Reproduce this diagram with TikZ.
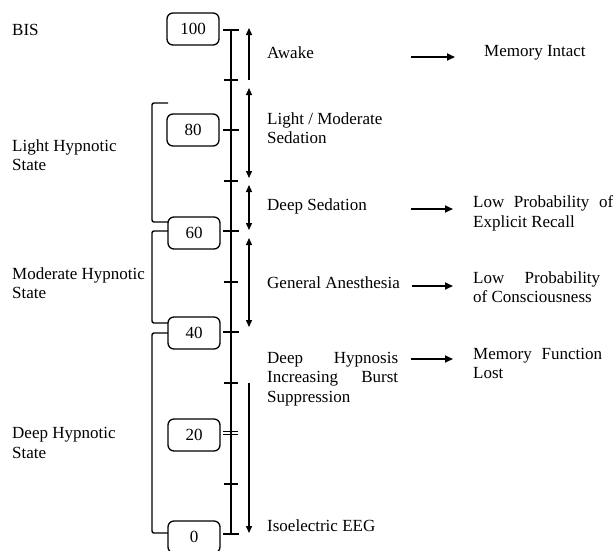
\documentclass[tikz,border=0pt]{standalone}
\usepackage{fontspec}
\setmainfont{Liberation Serif}
\usetikzlibrary{arrows.meta}

\begin{document}
\begin{tikzpicture}[
    x=1pt, y=-1pt,
    txt/.style={anchor=west, inner sep=0pt, align=left,
      font=\fontsize{17}{19.5}\selectfont},
    jtxt/.style={txt, align=justify},
    valbox/.style={draw, line width=1.3pt, rounded corners=6pt,
      minimum width=52pt, minimum height=32pt, inner sep=0pt,
      font=\fontsize{17}{19.5}\selectfont},
    axis/.style={line width=2.4pt},
    major/.style={line width=2.2pt},
    minor/.style={line width=1.4pt},
    bracket/.style={line width=1.4pt, rounded corners=2pt},
    arrow/.style={-{Triangle[length=8pt,width=7pt]}, line width=1.8pt,
      shorten >=20pt},
    varrow/.style={-{Triangle[length=7pt,width=6pt]}, line width=1.3pt},
    dblarrow/.style={{Triangle[length=7pt,width=6pt]}-{Triangle[length=7pt,width=6pt]},
      line width=1.3pt},
  ]
    \useasboundingbox (0,0) rectangle (613,550);

    % scale
    \coordinate (t100) at (231,30);
    \coordinate (t90) at (231,80);
    \coordinate (t80) at (231,130);
    \coordinate (t70) at (231,181);
    \coordinate (t60) at (231,231);
    \coordinate (t50) at (231,282);
    \coordinate (t40) at (231,332);
    \coordinate (t30) at (231,383);
    \coordinate (t20) at (231,433);
    \coordinate (t10) at (231,484);
    \coordinate (t0) at (231,534);

    \draw[axis] (t100) -- (t0);
    \draw[major] ([xshift=-8pt]t100) -- ([xshift=8pt]t100);
    \draw[minor] ([xshift=-7pt]t90) -- ([xshift=7pt]t90);
    \draw[major] ([xshift=-8pt]t80) -- ([xshift=8pt]t80);
    \draw[minor] ([xshift=-7pt]t70) -- ([xshift=7pt]t70);
    \draw[major] ([xshift=-8pt]t60) -- ([xshift=8pt]t60);
    \draw[minor] ([xshift=-7pt]t50) -- ([xshift=7pt]t50);
    \draw[major] ([xshift=-8pt]t40) -- ([xshift=8pt]t40);
    \draw[minor] ([xshift=-7pt]t30) -- ([xshift=7pt]t30);
    \draw[minor] ([xshift=-8pt,yshift=1.6pt]t20) -- ([xshift=7pt,yshift=1.6pt]t20);
    \draw[minor] ([xshift=-8pt,yshift=-1.6pt]t20) -- ([xshift=7pt,yshift=-1.6pt]t20);
    \draw[minor] ([xshift=-7pt]t10) -- ([xshift=7pt]t10);
    \draw[major] ([xshift=-8pt]t0) -- ([xshift=8pt]t0);

    % BIS values
    \node[valbox] (v100) at (193,29) {100};
    \node[valbox] (v80) at (193,130) {80};
    \node[valbox] (v60) at (194,233) {60};
    \node[valbox] (v40) at (194,333) {40};
    \node[valbox] (v20) at (194,435) {20};
    \node[valbox] (v0) at (194,537) {0};

    % hypnotic states
    \draw[bracket] (168,103) -- (152,103) -- (152,222) -- (168,222);
    \draw[bracket] (168,231) -- (152,231) -- (152,323) -- (168,323);
    \draw[bracket] (168,333) -- (152,333) -- (152,533) -- (168,533);

    \node[txt] (bis) at (12,30) {BIS};
    \node[txt] (light) at (12,155) {Light Hypnotic\\State};
    \node[txt] (moderate) at (12,283) {Moderate Hypnotic\\State};
    \node[txt] (deep) at (12,443) {Deep Hypnotic\\State};

    % ranges on the scale
    \draw[varrow] ([xshift=18pt]t90) -- ([xshift=18pt,yshift=2pt]t100);
    \draw[dblarrow] ([xshift=18pt,yshift=-8pt]t90) -- ([xshift=18pt,yshift=3pt]t70);
    \draw[dblarrow] ([xshift=18pt,yshift=-4pt]t70) -- ([xshift=18pt,yshift=1pt]t60);
    \draw[dblarrow] ([xshift=18pt,yshift=-7pt]t60) -- ([xshift=18pt,yshift=5pt]t40);
    \draw[varrow] ([xshift=18pt]t30) -- ([xshift=18pt,yshift=1pt]t0);

    % levels
    \node[txt] (awake) at (267,53) {Awake};
    \node[txt] (lightmod) at (267,128) {Light / Moderate\\Sedation};
    \node[txt] (deepsed) at (267,206) {Deep Sedation};
    \node[txt] (genan) at (267,283) {General Anesthesia};
    \node[jtxt, text width=131pt] (deephyp) at (267,379)
      {Deep Hypnosis\linebreak Increasing Burst\linebreak Suppression};
    \node[txt] (isoeeg) at (267,526) {Isoelectric EEG};

    % memory and consciousness
    \node[txt] (memint) at (484,53) {Memory Intact};
    \node[jtxt, text width=140pt] (lowrecall) at (473,213.5)
      {Low Probability of\linebreak Explicit Recall};
    \node[jtxt, text width=127pt] (lowcons) at (473,287)
      {Low Probability\linebreak of Consciousness};
    \node[jtxt, text width=129pt] (memlost) at (473,363.5)
      {Memory Function\linebreak Lost};

    \coordinate (a1) at (411,57);
    \coordinate (a2) at (411,209);
    \coordinate (a3) at (412,286);
    \coordinate (a4) at (411,359);

    \draw[arrow, shorten >=29pt] (a1) -- (a1 -| memint.west);
    \draw[arrow] (a2) -- (a2 -| lowrecall.west);
    \draw[arrow] (a3) -- (a3 -| lowcons.west);
    \draw[arrow] (a4) -- (a4 -| memlost.west);
  \end{tikzpicture}
\end{document}
